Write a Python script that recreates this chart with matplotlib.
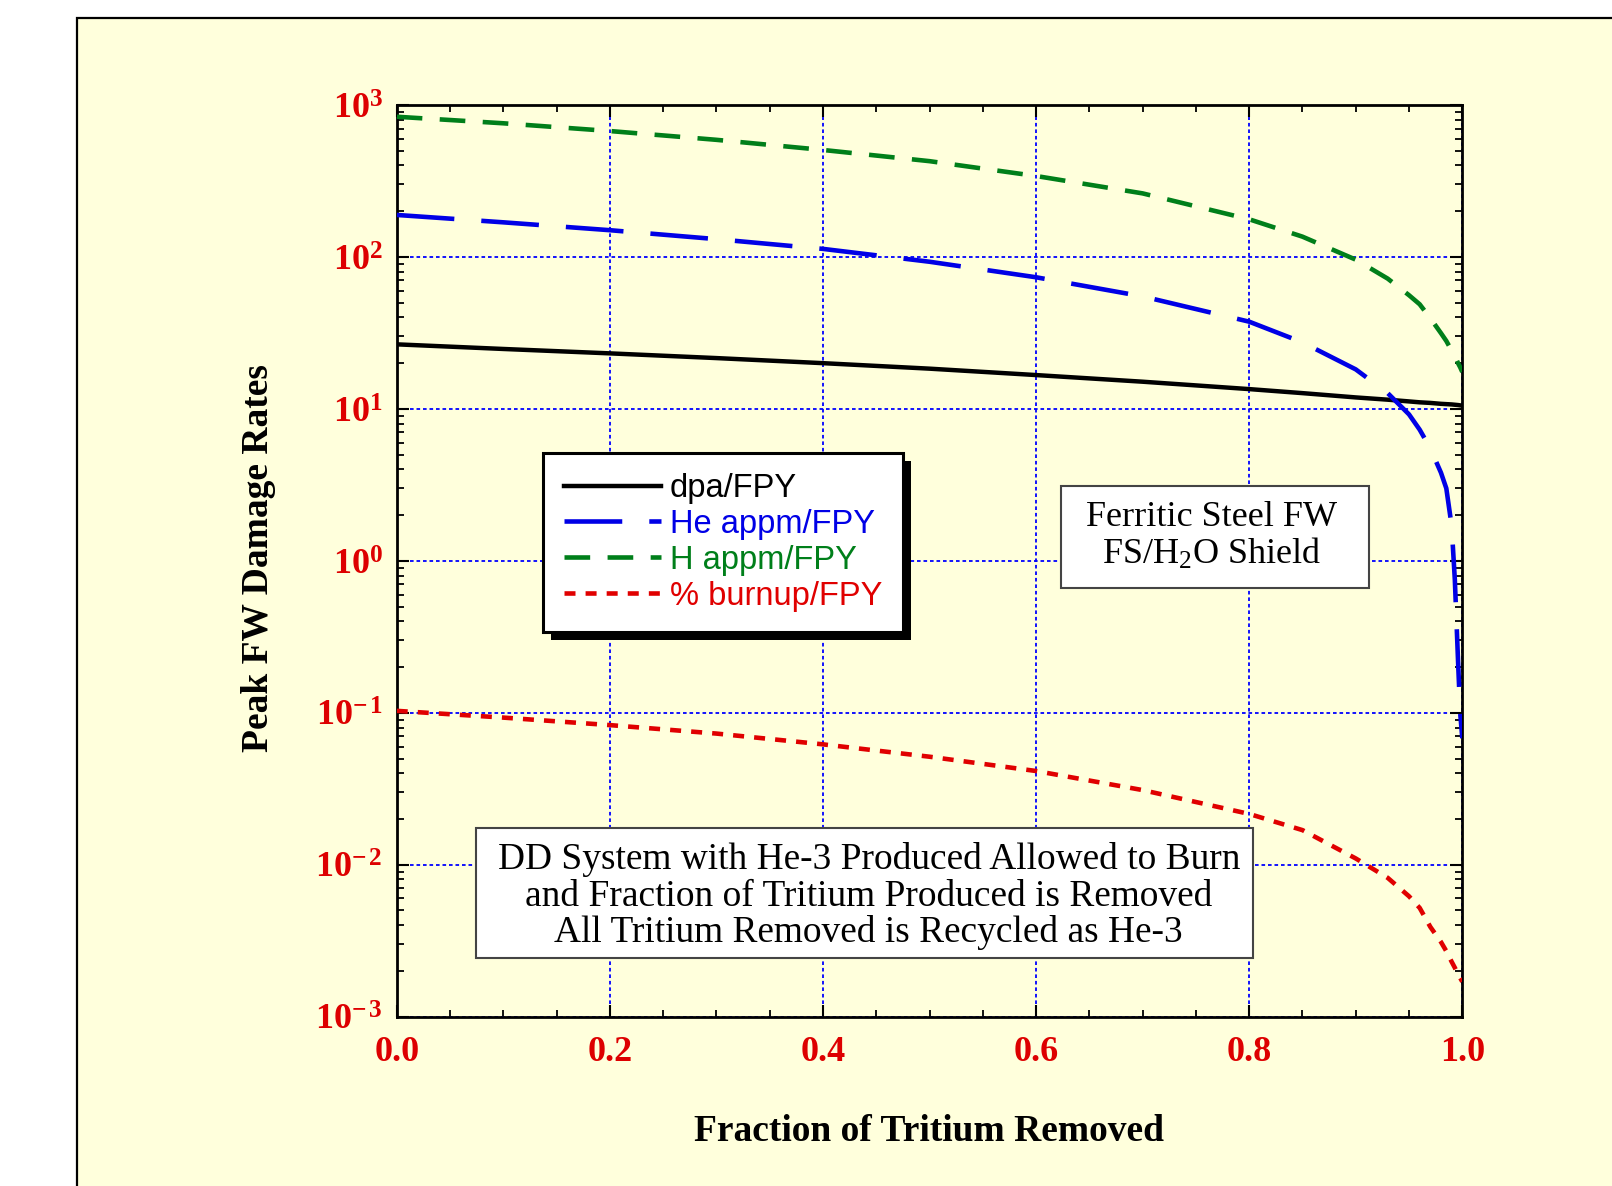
import matplotlib
matplotlib.use('Agg')
import matplotlib.pyplot as plt
from matplotlib.patches import Rectangle
from matplotlib.ticker import FixedLocator, FixedFormatter, LogLocator, MultipleLocator, NullFormatter
from matplotlib.transforms import IdentityTransform

plt.rcParams['mathtext.fontset'] = 'custom'
plt.rcParams['mathtext.rm'] = 'Liberation Serif'
plt.rcParams['mathtext.it'] = 'Liberation Serif:italic'
plt.rcParams['mathtext.bf'] = 'Liberation Serif:bold'

# ---------------- data ----------------
fraction_removed = [0.0, 0.1, 0.2, 0.3, 0.4, 0.5, 0.6, 0.7, 0.8, 0.85, 0.9, 0.93,
                    0.95, 0.96, 0.97, 0.98, 0.985, 0.99, 0.993, 0.996, 0.998, 1.0]
dpa_fpy = [26.6, 24.8, 23.2, 21.6, 20.0, 18.4, 16.7, 15.1, 13.5, 12.7, 11.9, 11.5,
           11.2, 11.05, 10.95, 10.8, 10.75, 10.7, 10.65, 10.6, 10.55, 10.5]
he_appm_fpy = [189, 169, 150, 131, 113, 93, 73.5, 55, 37.5, 27.4, 18.2, 12.7,
               9.2, 7.3, 5.5, 3.8, 3.0, 1.7, 0.75, 0.22, 0.10, 0.068]
h_appm_fpy = [837, 758, 674, 590, 506, 427, 341, 262, 177, 136, 96, 72,
              56, 48.8, 39.5, 31.5, 28, 24.2, 22.3, 20, 18.8, 17.5]
burnup_pct_fpy = [0.103, 0.093, 0.083, 0.073, 0.062, 0.0514, 0.0414, 0.031, 0.0216, 0.0169,
                  0.011, 0.0082, 0.0062, 0.0052, 0.0039, 0.0031, 0.0027, 0.0023, 0.0021,
                  0.0019, 0.0018, 0.0017]
series_labels = ['dpa/FPY', 'He appm/FPY', 'H appm/FPY', '% burnup/FPY']

x_ticks = [0.0, 0.2, 0.4, 0.6, 0.8, 1.0]
x_tick_labels = ['0.0', '0.2', '0.4', '0.6', '0.8', '1.0']
y_ticks = [1e-3, 1e-2, 1e-1, 1e0, 1e1, 1e2, 1e3]
y_tick_labels = [r'$\mathbf{10^{-\,3}}$', r'$\mathbf{10^{-\,2}}$', r'$\mathbf{10^{-\,1}}$',
                 r'$\mathbf{10^{0}}$', r'$\mathbf{10^{1}}$', r'$\mathbf{10^{2}}$',
                 r'$\mathbf{10^{3}}$']

x_label = 'Fraction of Tritium Removed'
y_label = 'Peak FW Damage Rates'
note_material = 'Ferritic Steel FW\nFS/H$_2$O Shield'
note_system = ('DD System with He-3 Produced Allowed to Burn\n'
               'and Fraction of Tritium Produced is Removed\n'
               'All Tritium Removed is Recycled as He-3')

# ---------------- style ----------------
W, H = 1612, 1186
c_black = 'black'
c_blue = '#0000E6'
c_green = '#007F1A'
c_red = '#E00000'
c_tick = '#DD0000'
c_panel = '#FFFFDC'

fig = plt.figure(figsize=(W / 100, H / 100), dpi=100)
fig.patch.set_facecolor('white')

panel = Rectangle((77 / W, -0.1), 1.2, 1.1 - 18 / H, transform=fig.transFigure,
                  facecolor=c_panel, edgecolor='black', linewidth=1.6, zorder=0)
fig.add_artist(panel)

ax = fig.add_axes([396.7 / W, 1 - 1016.7 / H, (1462.3 - 396.7) / W, (1016.7 - 105) / H])
ax.set_facecolor('none')
ax.set_yscale('log')
ax.set_xlim(0, 1)
ax.set_ylim(1e-3, 1e3)

lw = 3.3
ax.plot(fraction_removed, dpa_fpy, color=c_black, lw=3.2, ls='-', label=series_labels[0], zorder=3)
ax.plot(fraction_removed, he_appm_fpy, color=c_blue, lw=lw, ls=(0, (12.6, 5.9)),
        label=series_labels[1], zorder=3)
ax.plot(fraction_removed, h_appm_fpy, color=c_green, lw=lw, ls=(0, (5.6, 3.8)),
        label=series_labels[2], zorder=3)
ax.plot(fraction_removed, burnup_pct_fpy, color=c_red, lw=lw, ls=(0, (2.4, 2.2)),
        label=series_labels[3], zorder=3)

# ticks
ax.xaxis.set_major_locator(FixedLocator(x_ticks))
ax.xaxis.set_major_formatter(FixedFormatter(x_tick_labels))
ax.xaxis.set_minor_locator(MultipleLocator(0.05))
ax.yaxis.set_major_locator(FixedLocator(y_ticks))
ax.yaxis.set_major_formatter(FixedFormatter(y_tick_labels))
ax.yaxis.set_minor_locator(LogLocator(base=10, subs=range(2, 10), numticks=20))
ax.yaxis.set_minor_formatter(NullFormatter())

ax.tick_params(which='both', direction='in', top=True, right=True, color='black')
ax.tick_params(which='major', length=8.5, width=1.5)
ax.tick_params(which='minor', length=5, width=1.3)
ax.tick_params(axis='x', which='major', pad=14, labelsize=26, labelcolor=c_tick)
ax.tick_params(axis='y', which='major', pad=10, labelsize=26, labelcolor=c_tick)
for lab in ax.get_xticklabels():
    lab.set_family('Liberation Serif')
    lab.set_fontweight('bold')

for sp in ax.spines.values():
    sp.set_linewidth(2.0)

ax.grid(True, which='major', color='#0000FF', ls=(0, (2, 1.6)), lw=1.3)

# axis labels
ax.set_xlabel(x_label, family='Liberation Serif', fontweight='bold', fontsize=27, va='top')
ax.xaxis.set_label_coords(0.5, (1016.7 - 1114) / 911.7)
fig.text(258 / W, 1 - 558 / H, y_label, rotation=90, ha='center', va='center',
         family='Liberation Serif', fontweight='bold', fontsize=27)

# legend
leg = ax.legend(loc='upper left', bbox_to_anchor=(0.1376, 0.6186), borderaxespad=0,
                frameon=True, fancybox=False, edgecolor='black', framealpha=1,
                facecolor='white', prop={'family': 'Liberation Sans', 'size': 23.5},
                handlelength=2.98, handletextpad=0.28, labelspacing=0.15, borderpad=0.62)
leg.get_frame().set_linewidth(2.2)
for txt, col in zip(leg.get_texts(), [c_black, c_blue, c_green, c_red]):
    txt.set_color(col)
leg.set_zorder(10)

# note boxes
box1 = Rectangle((0.6231, 0.4699), 0.9127 - 0.6231, 0.5821 - 0.4699, transform=ax.transAxes,
                 facecolor='white', edgecolor='#444444', lw=1.5, zorder=5)
ax.add_patch(box1)
ax.text(0.7648, 0.527, note_material, transform=ax.transAxes, ha='center', va='center',
        multialignment='center', family='Liberation Serif', fontsize=26, linespacing=1.1,
        zorder=6)

box2 = Rectangle((0.0744, 0.0641), 0.804 - 0.0744, 0.2066 - 0.0641, transform=ax.transAxes,
                 facecolor='white', edgecolor='#444444', lw=1.5, zorder=5)
ax.add_patch(box2)
ax.text(0.443, 0.132, note_system, transform=ax.transAxes, ha='center', va='center',
        multialignment='center', family='Liberation Serif', fontsize=26.9, linespacing=1.07,
        zorder=6)

# legend shadow (drawn just below the legend frame)
fig.canvas.draw()
bb = leg.get_frame().get_window_extent()
shadow = Rectangle((bb.x0 + 8, bb.y0 - 8), bb.width, bb.height, transform=IdentityTransform(),
                   facecolor='black', edgecolor='black', lw=0, zorder=9, clip_on=False)
ax.add_artist(shadow)

fig.savefig('out.png', dpi=100, facecolor='white')
